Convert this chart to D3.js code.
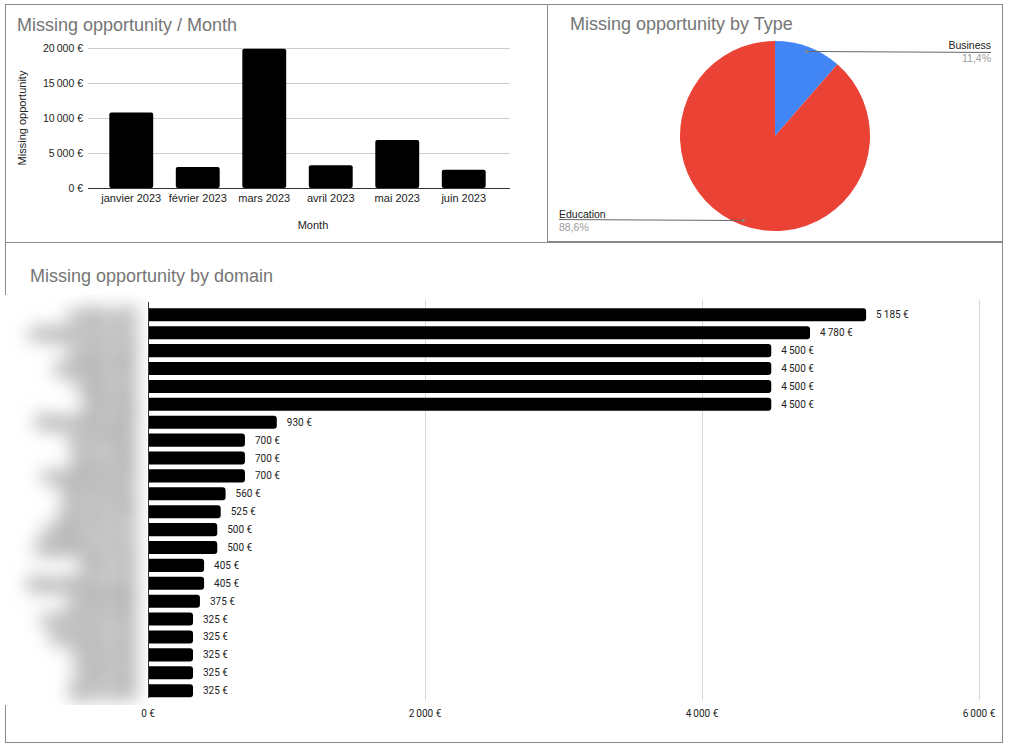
<!DOCTYPE html>
<html>
<head>
<meta charset="utf-8">
<script src="https://cdn.jsdelivr.net/npm/d3@7"></script>
<style>
  body { margin: 0; background: #fff; }
  text { font-family: Arial, "Liberation Sans", sans-serif; }
</style>
</head>
<body>
<div id="chart"></div>
<script>
// monthly chart
const months = ["janvier 2023", "février 2023", "mars 2023", "avril 2023", "mai 2023", "juin 2023"];
const monthValues = [10800, 3000, 19900, 3250, 6850, 2600];
const monthTicks = [0, 5000, 10000, 15000, 20000];

// pie by type
const types = ["Business", "Education"];
const typeShares = [11.4, 88.6];
const typeColors = ["#4285f4", "#ea4335"];

// domain chart (names are blurred in the source)
const domains = ["ecole-a.fr", "campus-b.com", "ecole-c.fr", "institut-d.fr", "univ-e.fr",
  "site-f.fr", "formation-g.fr", "ecole-h.fr", "lycee-i.fr", "academie-j.fr", "site-k.com",
  "groupe-l.fr", "ecole-m.com", "institut-n.com", "site-o.fr", "formations-p.fr",
  "ecole-q.fr", "academie-r.fr", "campus-s.fr", "ecole-t.fr", "univ-u.fr", "lycee-v.fr"];
const domainValues = [5185, 4780, 4500, 4500, 4500, 4500, 930, 700, 700, 700, 560, 525, 500, 500,
  405, 405, 375, 325, 325, 325, 325, 325];
const domainTicks = [0, 2000, 4000, 6000];

const eur = d => d3.format(",")(d).replace(/,/g, "\u2009") + "\u00a0€";

const svg = d3.select("#chart").append("svg")
    .attr("width", 1014)
    .attr("height", 747);

// panel frames
const frame = (x, y, w, h) => svg.append("rect")
    .attr("x", x).attr("y", y).attr("width", w).attr("height", h)
    .attr("fill", "#fff").attr("stroke", "#8a8a8a").attr("stroke-width", 1);
frame(5.5, 4.5, 542, 238);
frame(547.5, 4.5, 455, 237);
frame(5.5, 242.5, 997, 500);

// ---------- monthly bar chart ----------
let x = d3.scaleBand().domain(months).range([98, 497]).paddingInner(0.34).paddingOuter(0.17);
let y = d3.scaleLinear().domain([0, 20000]).range([188, 48]);

svg.append("text")
    .attr("x", 17).attr("y", 31)
    .attr("font-size", 18).attr("fill", "#757575")
    .text("Missing opportunity / Month");

let g1 = svg.append("g");
g1.selectAll(".grid").data(monthTicks).enter().append("line")
    .attr("x1", 88).attr("x2", 510)
    .attr("y1", d => Math.round(y(d)) + 0.5).attr("y2", d => Math.round(y(d)) + 0.5)
    .attr("stroke", d => d === 0 ? "#333" : "#cccccc");
g1.selectAll(".ytick").data(monthTicks).enter().append("text")
    .attr("x", 83).attr("y", d => y(d)).attr("dy", "0.35em")
    .attr("text-anchor", "end").attr("font-size", 10.5).attr("fill", "#222")
    .text(eur);
g1.selectAll(".bar").data(monthValues).enter().append("rect")
    .attr("x", (d, i) => x(months[i]))
    .attr("width", x.bandwidth())
    .attr("y", d => y(d))
    .attr("height", d => y(0) - y(d))
    .attr("rx", 2)
    .attr("fill", "#000");
g1.selectAll(".xtick").data(months).enter().append("text")
    .attr("x", d => x(d) + x.bandwidth() / 2).attr("y", 202)
    .attr("text-anchor", "middle").attr("font-size", 11).attr("fill", "#222")
    .text(d => d);
g1.append("text")
    .attr("x", 313).attr("y", 229)
    .attr("text-anchor", "middle").attr("font-size", 11).attr("fill", "#222")
    .text("Month");
g1.append("text")
    .attr("transform", "translate(26,118) rotate(-90)")
    .attr("text-anchor", "middle").attr("font-size", 11).attr("fill", "#222")
    .text("Missing opportunity");

// ---------- pie by type ----------
svg.append("text")
    .attr("x", 570).attr("y", 30)
    .attr("font-size", 18).attr("fill", "#757575")
    .text("Missing opportunity by Type");

const cx = 775, cy = 136, R = 95;
let pie = d3.pie().sort(null).value(d => d);
let arc = d3.arc().innerRadius(0).outerRadius(R);
let slices = pie(typeShares);
let g2 = svg.append("g").attr("transform", `translate(${cx},${cy})`);
g2.selectAll("path").data(slices).enter().append("path")
    .attr("d", arc)
    .attr("fill", (d, i) => typeColors[i]);

slices.forEach((s, i) => {
    let a = (s.startAngle + s.endAngle) / 2;
    let px = cx + Math.sin(a) * R * 0.95;
    let py = cy - Math.cos(a) * R * 0.95;
    let right = Math.sin(a) > 0;
    let endX = right ? 991 : 559;
    svg.append("path")
        .attr("d", d3.line()([[px, py], [endX, py + (right ? 1 : -1)]]))
        .attr("stroke", "#666").attr("stroke-width", 1).attr("fill", "none");
    svg.append("circle").attr("cx", px).attr("cy", py).attr("r", 1.5).attr("fill", "#888");
    svg.append("text")
        .attr("x", endX).attr("y", py + (right ? -2 : -3))
        .attr("text-anchor", right ? "end" : "start")
        .attr("font-size", 10.5).attr("fill", "#222")
        .text(types[i]);
    svg.append("text")
        .attr("x", endX).attr("y", py + (right ? 11 : 10))
        .attr("text-anchor", right ? "end" : "start")
        .attr("font-size", 10.5).attr("fill", "#9e9e9e")
        .text(d3.format(".1f")(typeShares[i]).replace(".", ",") + "%");
});

// ---------- domain bar chart ----------
svg.append("text")
    .attr("x", 30).attr("y", 282)
    .attr("font-size", 18).attr("fill", "#757575")
    .text("Missing opportunity by domain");

// the pasted screenshot area hides the left frame edge
svg.append("rect").attr("x", 0).attr("y", 295).attr("width", 148).attr("height", 410).attr("fill", "#fff");

let xd = d3.scaleLinear().domain([0, 6000]).range([148, 979]);
let yd = d3.scaleBand().domain(domains).range([306.5, 699]).paddingInner(0.27).paddingOuter(0.1);

let g3 = svg.append("g");
g3.selectAll(".vgrid").data(domainTicks.slice(1)).enter().append("line")
    .attr("x1", d => Math.round(xd(d)) + 0.5).attr("x2", d => Math.round(xd(d)) + 0.5)
    .attr("y1", 300).attr("y2", 700)
    .attr("stroke", "#d9d9d9");

const defs = svg.append("defs");
defs.append("filter").attr("id", "blur")
    .attr("filterUnits", "userSpaceOnUse")
    .attr("x", 0).attr("y", 295).attr("width", 147).attr("height", 410)
  .append("feGaussianBlur").attr("stdDeviation", 9);

g3.append("g").attr("filter", "url(#blur)")
  .selectAll("text").data(domains).enter().append("text")
    .attr("x", 136).attr("y", d => yd(d) + yd.bandwidth() / 2).attr("dy", "0.35em")
    .attr("text-anchor", "end").attr("font-size", 15).attr("font-weight", "bold")
    .attr("fill", "#a9a9a9").attr("stroke", "#a9a9a9").attr("stroke-width", 5)
    .text(d => d);

g3.selectAll(".hbar").data(domainValues).enter().append("path")
    .attr("d", (d, i) => {
        let x0 = xd(0), x1 = xd(d), y0 = yd(domains[i]), h = yd.bandwidth(), r = 3;
        return `M${x0},${y0}H${x1 - r}Q${x1},${y0} ${x1},${y0 + r}V${y0 + h - r}Q${x1},${y0 + h} ${x1 - r},${y0 + h}H${x0}Z`;
    })
    .attr("fill", "#000");

g3.selectAll(".vlabel").data(domainValues).enter().append("text")
    .attr("x", d => xd(d) + 10)
    .attr("y", (d, i) => yd(domains[i]) + yd.bandwidth() / 2).attr("dy", "0.35em")
    .attr("font-size", 10).attr("fill", "#222")
    .style("font-family", "Roboto, Arial, sans-serif")
    .text(eur);

g3.append("line")
    .attr("x1", 148.5).attr("x2", 148.5).attr("y1", 302).attr("y2", 698)
    .attr("stroke", "#333");

g3.selectAll(".dtick").data(domainTicks).enter().append("text")
    .attr("x", d => xd(d)).attr("y", 717)
    .attr("text-anchor", "middle").attr("font-size", 10).attr("fill", "#222")
    .style("font-family", "Roboto, Arial, sans-serif")
    .text(eur);
</script>
</body>
</html>
